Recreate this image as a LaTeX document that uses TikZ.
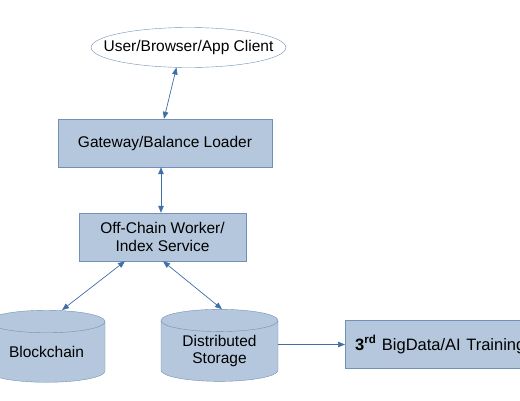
\documentclass[tikz,border=0pt]{standalone}
\usepackage{fontspec}
\setmainfont{Liberation Sans}
\usetikzlibrary{shapes.geometric, arrows.meta, positioning}
\definecolor{boxfill}{HTML}{B4C7DC}
\definecolor{boxline}{HTML}{7391B6}
\definecolor{linkblue}{HTML}{3F6FA6}
\tikzstyle{client}=[draw=boxline, ellipse, fill=white, minimum width=189pt, minimum height=40pt, inner xsep=-16pt, inner ysep=0pt]
\tikzstyle{service}=[draw=boxline, fill=boxfill, minimum height=48pt, align=center, inner sep=0pt]
\tikzstyle{store}=[draw=boxline, fill=boxfill, cylinder, shape border rotate=90, aspect=0.3, minimum width=117pt, minimum height=72pt, align=center, inner sep=0pt]
\tikzstyle{link}=[draw=linkblue, line width=0.7pt, {Triangle[length=7pt,width=5.5pt]}-{Triangle[length=7pt,width=5.5pt]}]

\begin{document}
\begin{tikzpicture}[x=1pt, y=-1pt, font=\fontsize{15.5}{17.5}\selectfont]
    \useasboundingbox (0, 0) rectangle (520, 400);

    \node (client)[client] at (188.5, 47.5) {User/Browser/App Client};
    \node (gateway)[service, minimum width=214pt] at (165, 143) {Gateway/Balance Loader};
    \node (worker)[service, minimum width=167pt] at (162.5, 237) {Off-Chain Worker/\\Index Service};
    \node (chain)[store] at (46.5, 352) {Blockchain};
    \node (storage)[store] at (219.5, 351) {Distributed\\Storage};
    \node (training)[service, anchor=west, inner xsep=10pt, text width=185pt, align=left,
        font=\fontsize{16.5}{19}\selectfont] at (345, 344.5) {\textbf{3\textsuperscript{rd}} BigData/AI Training};

    \draw[link] (client.239) -- ([xshift=-1pt]gateway.north);
    \draw[link] ([xshift=-4pt]gateway.south) -- ([xshift=-1.5pt]worker.north);
    \draw[link] ([xshift=-37.5pt]worker.south) -- ([xshift=15.5pt]chain.north);
    \draw[link] ([xshift=0.5pt]worker.south) -- ([xshift=2.5pt]storage.north);
    \draw[link, -{Triangle[length=7pt,width=5.5pt]}] ([yshift=6.5pt]storage.east) -- (training.west);

\end{tikzpicture}
\end{document}
